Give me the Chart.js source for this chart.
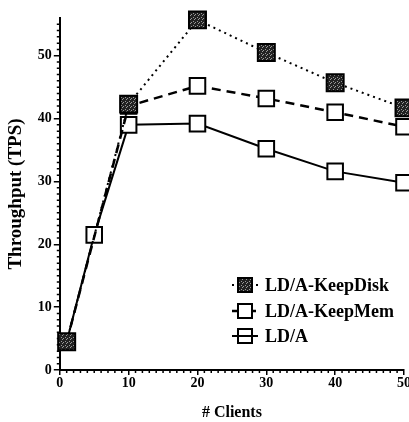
<!DOCTYPE html>
<html>
<head>
<meta charset="utf-8">
<script src="https://cdn.jsdelivr.net/npm/chart.js@4/dist/chart.umd.min.js"></script>
<style>
  html, body { margin: 0; padding: 0; background: #fff; overflow: hidden; }
  #wrap { width: 418px; height: 422px; }
</style>
</head>
<body>
<div id="wrap"><canvas id="chart"></canvas></div>
<script>
const clients = [1, 5, 10, 20, 30, 40, 50];
const keepDisk = [4.5, null, 42.3, 55.7, 50.5, 45.7, 41.7];
const keepMem = [4.5, null, 42, 45.2, 43.2, 41, 38.7];
const ldA = [4.5, 21.5, 39, 39.2, 35.2, 31.6, 29.8];
const seriesNames = ['LD/A-KeepDisk', 'LD/A-KeepMem', 'LD/A'];
const xTicks = [0, 10, 20, 30, 40, 50];
const yTicks = [0, 10, 20, 30, 40, 50];

const serif = "'Liberation Serif', 'DejaVu Serif', serif";

function toPoints(values) {
  return clients.map((c, i) => ({ x: c, y: values[i] }));
}

// Petit motif grisé pour les carrés pleins
function shadePattern() {
  const c = document.createElement('canvas');
  c.width = 4; c.height = 4;
  const g = c.getContext('2d');
  g.fillStyle = '#222';
  g.fillRect(0, 0, 4, 4);
  g.fillStyle = '#999';
  g.fillRect(1, 1, 1, 1);
  g.fillRect(3, 2, 1, 1);
  g.fillRect(2, 3, 1, 1);
  return g.createPattern(c, 'repeat');
}
const shade = shadePattern();

// Graduations secondaires (tous les 1)
const minorTicks = {
  id: 'minorTicks',
  afterDraw(chart) {
    const { ctx, scales } = chart;
    const xs = scales.x, ys = scales.y;
    ctx.save();
    ctx.strokeStyle = '#000';
    ctx.lineWidth = 1.5;
    ctx.beginPath();
    for (let v = 1; v <= 55; v++) {
      if (v % 10 === 0) continue;
      const py = ys.getPixelForValue(v);
      ctx.moveTo(ys.right - 3, py);
      ctx.lineTo(ys.right, py);
    }
    for (let v = 1; v <= 50; v++) {
      if (v % 10 === 0) continue;
      const px = xs.getPixelForValue(v);
      ctx.moveTo(px, xs.top);
      ctx.lineTo(px, xs.top + 3);
    }
    ctx.stroke();
    ctx.restore();
  }
};

// Légende dans la zone du graphique, en bas à droite
const insideLegend = {
  id: 'insideLegend',
  afterDraw(chart) {
    const { ctx } = chart;
    const x0 = 232, x1 = 258, mx = 245, tx = 265;
    const rows = [285, 311, 336];
    ctx.save();
    chart.data.datasets.forEach((ds, i) => {
      const y = rows[i];
      ctx.strokeStyle = '#000';
      ctx.lineWidth = ds.borderWidth;
      ctx.setLineDash(ds.borderDash || []);
      ctx.beginPath();
      ctx.moveTo(x0, y);
      ctx.lineTo(x1, y);
      ctx.stroke();
      ctx.setLineDash([]);
      const s = 14;
      ctx.fillStyle = ds.pointBackgroundColor;
      ctx.fillRect(mx - s / 2, y - s / 2, s, s);
      ctx.lineWidth = 2;
      ctx.strokeRect(mx - s / 2, y - s / 2, s, s);
      if (i === 2) {
        ctx.beginPath();
        ctx.moveTo(x0, y);
        ctx.lineTo(x1, y);
        ctx.stroke();
      }
      ctx.fillStyle = '#000';
      ctx.font = 'bold 18px ' + serif;
      ctx.textBaseline = 'middle';
      ctx.fillText(ds.label, tx, y + 1);
    });
    ctx.restore();
  }
};

new Chart(document.getElementById('chart'), {
  type: 'line',
  data: {
    datasets: [
      {
        label: seriesNames[0],
        data: toPoints(keepDisk),
        spanGaps: true,
        borderColor: '#000',
        borderWidth: 2,
        borderDash: [2, 4],
        pointStyle: 'rect',
        pointRadius: 12,
        pointBorderWidth: 2,
        pointBorderColor: '#000',
        pointBackgroundColor: shade,
        clip: false
      },
      {
        label: seriesNames[1],
        data: toPoints(keepMem),
        spanGaps: true,
        borderColor: '#000',
        borderWidth: 2.5,
        borderDash: [9, 6],
        pointStyle: 'rect',
        pointRadius: 11,
        pointBorderWidth: 2,
        pointBorderColor: '#000',
        pointBackgroundColor: '#fff',
        clip: false
      },
      {
        label: seriesNames[2],
        data: toPoints(ldA),
        borderColor: '#000',
        borderWidth: 2,
        pointStyle: 'rect',
        pointRadius: 11,
        pointBorderWidth: 2,
        pointBorderColor: '#000',
        pointBackgroundColor: '#fff',
        clip: false
      }
    ]
  },
  options: {
    responsive: true,
    maintainAspectRatio: false,
    animation: false,
    layout: { padding: { left: 5, top: 18, right: 0, bottom: 0 } },
    plugins: {
      legend: { display: false },
      tooltip: { enabled: false }
    },
    scales: {
      x: {
        type: 'linear',
        min: 0,
        max: 50,
        afterBuildTicks: (scale) => { scale.ticks = xTicks.map(v => ({ value: v })); },
        border: { color: '#000', width: 2 },
        grid: { drawOnChartArea: false, color: '#000', lineWidth: 1.5, tickLength: 5 },
        ticks: { color: '#000', font: { family: serif, size: 14, weight: 'bold' }, padding: 0, maxRotation: 0 },
        title: { display: true, text: '# Clients', color: '#000', font: { family: serif, size: 16, weight: 'bold' }, padding: { top: 11, bottom: 0 } }
      },
      y: {
        min: 0,
        max: 56,
        afterBuildTicks: (scale) => { scale.ticks = yTicks.map(v => ({ value: v })); },
        border: { color: '#000', width: 2 },
        grid: { drawOnChartArea: false, color: '#000', lineWidth: 1.5, tickLength: 6 },
        ticks: { color: '#000', font: { family: serif, size: 14, weight: 'bold' }, padding: 2 },
        title: { display: true, text: 'Throughput (TPS)', color: '#000', font: { family: serif, size: 19, weight: 'bold' }, padding: { top: 0, bottom: 8 } }
      }
    }
  },
  plugins: [minorTicks, insideLegend]
});
</script>
</body>
</html>
